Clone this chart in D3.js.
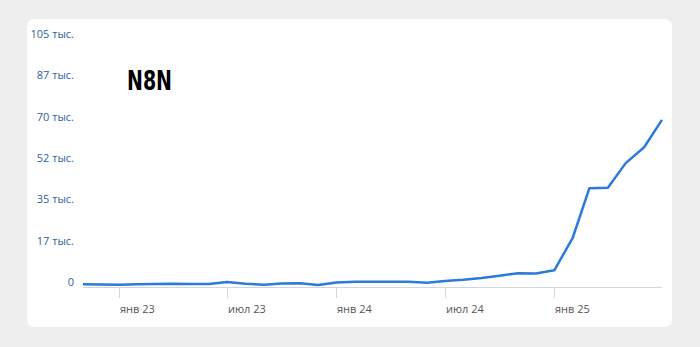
<!DOCTYPE html>
<html><head><meta charset="utf-8">
<script src="https://cdn.jsdelivr.net/npm/d3@7"></script>
<style>
html,body{margin:0;padding:0;background:#eeeeee;}
svg{display:block;font-family:"Open Sans",sans-serif;}
</style></head>
<body>
<svg id="c" width="700" height="347"></svg>
<script>
const months = ["2022-11","2022-12","2023-01","2023-02","2023-03","2023-04","2023-05","2023-06","2023-07","2023-08","2023-09","2023-10","2023-11","2023-12","2024-01","2024-02","2024-03","2024-04","2024-05","2024-06","2024-07","2024-08","2024-09","2024-10","2024-11","2024-12","2025-01","2025-02","2025-03","2025-04","2025-05","2025-06","2025-07"];
const values = [300,200,100,300,400,500,400,400,1300,550,100,600,700,0,1050,1350,1400,1400,1350,1000,1700,2250,3000,3900,5000,4900,6200,20000,41000,41200,51600,58300,69900];
const yTicks = [0,17500,35000,52500,70000,87500,105000];
const yTickLabels = ["0","17 тыс.","35 тыс.","52 тыс.","70 тыс.","87 тыс.","105 тыс."];
const xTicks = ["2023-01","2023-07","2024-01","2024-07","2025-01"];
const xTickLabels = ["янв 23","июл 23","янв 24","июл 24","янв 25"];
const title = "N8N";

const parse = d3.timeParse("%Y-%m");
const data = months.map((m,i)=>({d:parse(m), v:values[i]}));
const svg = d3.select("#c");

svg.append("rect").attr("x",27).attr("y",19).attr("width",645).attr("height",308)
  .attr("rx",7).attr("fill","#ffffff");

const x = d3.scaleTime().domain([data[0].d, data[data.length-1].d]).range([83,662]);
const y = d3.scaleLinear().domain([0,105000]).range([285,37]);

// x axis
const xa = svg.append("g");
xa.append("line").attr("x1",83).attr("x2",662).attr("y1",287.5).attr("y2",287.5)
  .attr("stroke","#cfd6e0").attr("stroke-width",1);
xTicks.forEach((t,i)=>{
  const xx = Math.round(x(parse(t)))+0.5;
  xa.append("line").attr("x1",xx).attr("x2",xx).attr("y1",288).attr("y2",298)
    .attr("stroke","#cfd6e0").attr("stroke-width",1);
  xa.append("text").attr("x",xx+0.5).attr("y",313).attr("font-size",11)
    .attr("fill","#555").text(xTickLabels[i]);
});

// y labels
yTicks.forEach((t,i)=>{
  svg.append("text").attr("x",74).attr("y",y(t)+1).attr("text-anchor","end")
    .attr("font-size",11).attr("fill","#2f5f9c").text(yTickLabels[i]);
});

// line
const line = d3.line().x(d=>x(d.d)).y(d=>y(d.v)).curve(d3.curveLinear);
svg.append("path").datum(data).attr("d",line).attr("fill","none")
  .attr("stroke","#2b7bd8").attr("stroke-width",2.5).attr("stroke-linejoin","round");

// logo
svg.append("text").attr("x",127).attr("y",90).attr("font-family","'Liberation Sans Narrow','DejaVu Sans Condensed',sans-serif")
  .attr("font-weight","bold").attr("font-size",27).attr("textLength",45).attr("lengthAdjust","spacingAndGlyphs")
  .attr("fill","#000").text(title);
</script>
</body></html>
